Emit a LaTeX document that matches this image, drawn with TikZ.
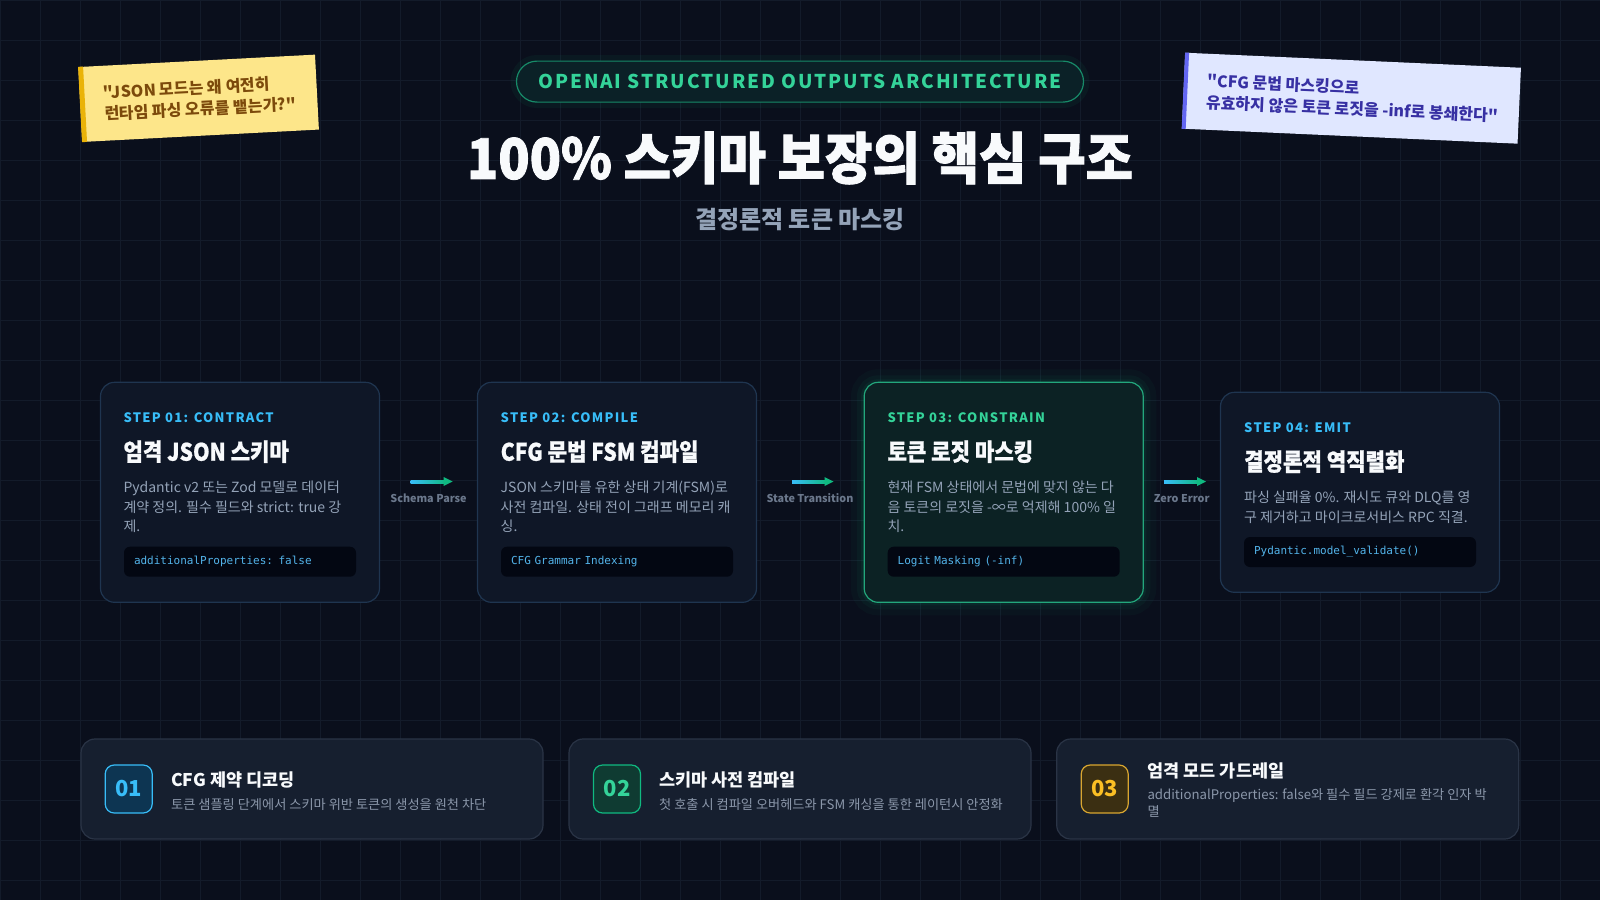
\documentclass[tikz,border=0pt]{standalone}
\usepackage{fontspec}
\setmainfont{Noto Sans CJK KR}[Ligatures=TeXOff]
\newfontfamily\krcond{Noto Sans CJK KR}[Ligatures=TeXOff, FakeStretch=0.88, BoldFeatures={FakeBold=0.8}]
\newfontfamily\krheavy{Noto Sans CJK KR}[Ligatures=TeXOff, FakeStretch=0.92, BoldFeatures={FakeBold=1.6}]
\newfontfamily\krspaced{Noto Sans CJK KR}[Ligatures=TeXOff, LetterSpace=10]
\setmonofont{DejaVu Sans Mono}
\usetikzlibrary{calc}

\definecolor{bgdark}{HTML}{0A0F1C}
\definecolor{gridline}{HTML}{131B2A}
\definecolor{cardfill}{HTML}{0F1727}
\definecolor{cardline}{HTML}{1F3550}
\definecolor{constfill}{HTML}{0C2224}
\definecolor{constline}{HTML}{23A77C}
\definecolor{codefill}{HTML}{030712}
\definecolor{codeblue}{HTML}{53B4EA}
\definecolor{skyblue}{HTML}{38BDF8}
\definecolor{emerald}{HTML}{10B981}
\definecolor{mint}{HTML}{34D399}
\definecolor{bodygray}{HTML}{94A3B8}
\definecolor{labelgray}{HTML}{6B788C}
\definecolor{whitetext}{HTML}{F8FAFC}
\definecolor{pillfill}{HTML}{0B2127}
\definecolor{pillline}{HTML}{178A68}
\definecolor{featfill}{HTML}{161F2F}
\definecolor{featline}{HTML}{2A3446}
\definecolor{featgray}{HTML}{8B97AA}
\definecolor{badgeonefill}{HTML}{0D3552}
\definecolor{badgetwofill}{HTML}{0F3B32}
\definecolor{badgethreefill}{HTML}{3B2F12}
\definecolor{amberline}{HTML}{D9A630}
\definecolor{amber}{HTML}{FBBF24}
\definecolor{notey}{HTML}{FDE68A}
\definecolor{noteyedge}{HTML}{EAB308}
\definecolor{noteytext}{HTML}{7C4A0B}
\definecolor{noteb}{HTML}{E0E7FF}
\definecolor{notebedge}{HTML}{6366F1}
\definecolor{notebtext}{HTML}{3730A3}

\tikzset{
	stepcard/.style={draw=cardline, fill=cardfill, rounded corners=14, line width=1.2, minimum width=279, inner sep=0},
	steptag/.style={anchor=west, inner sep=0, text=skyblue, font=\krspaced\bfseries\fontsize{13}{16}\selectfont},
	steptitle/.style={anchor=west, inner sep=0, text=whitetext, font=\krcond\bfseries\fontsize{24}{28}\selectfont},
	stepbody/.style={anchor=west, inner sep=0, align=left, text=bodygray, font=\fontsize{14}{19.7}\selectfont},
	codebox/.style={fill=codefill, rounded corners=6, text width=212, inner xsep=10, inner ysep=0, minimum height=30, align=left, text=codeblue, font=\ttfamily\fontsize{11}{13}\selectfont},
	flowlabel/.style={inner sep=0, text=labelgray, font=\bfseries\fontsize{10.8}{13}\selectfont},
	featcard/.style={draw=featline, fill=featfill, rounded corners=14, line width=1.2, minimum width=462, minimum height=100, inner sep=0},
	badge/.style={rounded corners=9, line width=1.2, minimum width=47, minimum height=48, inner sep=0, font=\bfseries\fontsize{22}{24}\selectfont},
	feattitle/.style={anchor=west, inner sep=0, text=whitetext, font=\bfseries\fontsize{17.5}{20}\selectfont},
	featbody/.style={anchor=west, inner sep=0, align=left, text=featgray, font=\fontsize{13.2}{17}\selectfont},
	notetext/.style={anchor=west, inner sep=0, align=left, font=\bfseries\fontsize{16}{21.5}\selectfont}
}

\begin{document}
\begin{tikzpicture}[x=1pt,y=1pt,yscale=-1]
	%Shape: Background
	\fill[bgdark] (0,0) rectangle (1600,900);
	\useasboundingbox (0,0) rectangle (1600,900);
	%Shape: Grid
	\draw[gridline, line width=1, step=40] (0,0) grid (1600,900);

	%Shape: Pill glow
	\draw[emerald, opacity=0.06, line width=12, rounded corners=20.5] (516.5,61) rectangle (1083.5,102);
	% Text Node
	\draw (800,81.6) node[draw=pillline, fill=pillfill, line width=1.2, rounded corners=20.5, minimum width=567, minimum height=41, inner sep=0, text=mint, font=\krspaced\bfseries\fontsize{19}{22}\selectfont] (tag) {OPENAI STRUCTURED OUTPUTS ARCHITECTURE};
	% Text Node
	\draw (800,158) node[inner sep=0, text=whitetext, font=\krheavy\bfseries\fontsize{56}{64}\selectfont] (headline) {100\% 스키마 보장의 핵심 구조};
	% Text Node
	\draw (800,220) node[inner sep=0, text=bodygray, font=\bfseries\fontsize{24}{28}\selectfont] (subhead) {결정론적 토큰 마스킹};

	%Shape: Sticky note (question)
	\draw (198.6,98.3) node[fill=notey, rotate=3, minimum width=237, minimum height=75, inner sep=0] (qnote) {};
	\draw[noteyedge, line width=5] ($(qnote.north west)!2.5pt!(qnote.north east)$) -- ($(qnote.south west)!2.5pt!(qnote.south east)$);
	\draw ($(qnote.west)!24pt!(qnote.east)$) node[notetext, rotate=3, text=noteytext] (qtext) {"JSON 모드는 왜 여전히\\런타임 파싱 오류를 뱉는가?"};
	%Shape: Sticky note (answer)
	\draw (1351.4,98.2) node[fill=noteb, rotate=-2.56, minimum width=336, minimum height=76, inner sep=0] (anote) {};
	\draw[notebedge, line width=4] ($(anote.north west)!2pt!(anote.north east)$) -- ($(anote.south west)!2pt!(anote.south east)$);
	\draw ($(anote.west)!23pt!(anote.east)$) node[notetext, rotate=-2.56, text=notebtext] (atext) {"CFG 문법 마스킹으로\\유효하지 않은 토큰 로짓을 -inf로 봉쇄한다"};

	%Shape: Step 01
	\draw (240,492.3) node[stepcard, minimum height=220] (s1) {};
	\draw (123.3,417.3) node[steptag] (s1tag) {STEP 01: CONTRACT};
	\draw (123.3,451.7) node[steptitle] (s1title) {엄격 JSON 스키마};
	\draw (123.3,507) node[stepbody] (s1body) {Pydantic v2 또는 Zod 모델로 데이터\\계약 정의. 필수 필드와 strict: true 강\\제.};
	\draw (240,561.7) node[codebox] (s1code) {additionalProperties: false};

	%Shape: Step 02
	\draw (617,492.3) node[stepcard, minimum height=220] (s2) {};
	\draw (500.5,417.3) node[steptag] (s2tag) {STEP 02: COMPILE};
	\draw (500.5,451.7) node[steptitle] (s2title) {CFG 문법 FSM 컴파일};
	\draw (500.5,507) node[stepbody] (s2body) {JSON 스키마를 유한 상태 기계(FSM)로\\사전 컴파일. 상태 전이 그래프 메모리 캐\\싱.};
	\draw (617,561.7) node[codebox] (s2code) {CFG Grammar Indexing};

	%Shape: Step 03 glow
	\draw[emerald, opacity=0.04, line width=26, rounded corners=14] (864,382.3) rectangle (1143.3,602.3);
	\draw[emerald, opacity=0.05, line width=14, rounded corners=14] (864,382.3) rectangle (1143.3,602.3);
	\draw[emerald, opacity=0.07, line width=6, rounded corners=14] (864,382.3) rectangle (1143.3,602.3);
	%Shape: Step 03
	\draw (1003.7,492.3) node[stepcard, draw=constline, fill=constfill, minimum height=220] (s3) {};
	\draw (887.3,417.3) node[steptag, text=mint] (s3tag) {STEP 03: CONSTRAIN};
	\draw (887.3,451.7) node[steptitle] (s3title) {토큰 로짓 마스킹};
	\draw (887.3,507) node[stepbody] (s3body) {현재 FSM 상태에서 문법에 맞지 않는 다\\음 토큰의 로짓을 -∞로 억제해 100\% 일\\치.};
	\draw (1003.7,561.7) node[codebox] (s3code) {Logit Masking (-inf)};

	%Shape: Step 04
	\draw (1360,492.3) node[stepcard, minimum height=200] (s4) {};
	\draw (1244,427.3) node[steptag] (s4tag) {STEP 04: EMIT};
	\draw (1244,461.7) node[steptitle] (s4title) {결정론적 역직렬화};
	\draw (1244,507) node[stepbody] (s4body) {파싱 실패율 0\%. 재시도 큐와 DLQ를 영\\구 제거하고 마이크로서비스 RPC 직결.};
	\draw (1360,552) node[codebox] (s4code) {Pydantic.model\_validate()};

	%Straight Lines
	\coordinate (arr1from) at (410.7,481.5);
	\coordinate (arr1to) at (452.7,481.5);
	\shade[left color=skyblue, right color=emerald] ($(arr1from)+(0,-1.5)$) rectangle ($(arr1to)+(-7,1.5)$);
	\draw [shift={(arr1to)}, rotate=180] [fill=emerald][draw opacity=0] (9,-4.5) -- (0,0) -- (9,4.5) -- cycle;
	\draw (428.5,498.3) node[flowlabel] (arr1label) {Schema Parse};
	%Straight Lines
	\coordinate (arr2from) at (792,481.5);
	\coordinate (arr2to) at (833.5,481.5);
	\shade[left color=skyblue, right color=emerald] ($(arr2from)+(0,-1.5)$) rectangle ($(arr2to)+(-7,1.5)$);
	\draw [shift={(arr2to)}, rotate=180] [fill=emerald][draw opacity=0] (9,-4.5) -- (0,0) -- (9,4.5) -- cycle;
	\draw (810,498.3) node[flowlabel] (arr2label) {State Transition};
	%Straight Lines
	\coordinate (arr3from) at (1164,481.5);
	\coordinate (arr3to) at (1206,481.5);
	\shade[left color=skyblue, right color=emerald] ($(arr3from)+(0,-1.5)$) rectangle ($(arr3to)+(-7,1.5)$);
	\draw [shift={(arr3to)}, rotate=180] [fill=emerald][draw opacity=0] (9,-4.5) -- (0,0) -- (9,4.5) -- cycle;
	\draw (1181.7,498.3) node[flowlabel] (arr3label) {Zero Error};

	%Shape: Feature 01
	\draw (312,789) node[featcard] (feat1) {};
	\draw (128.7,789) node[badge, draw=skyblue, fill=badgeonefill, text=skyblue] (badge1) {01};
	\draw (171,780) node[feattitle] (feat1title) {CFG 제약 디코딩};
	\draw (171,805) node[featbody] (feat1body) {토큰 샘플링 단계에서 스키마 위반 토큰의 생성을 원천 차단};
	%Shape: Feature 02
	\draw (800,789) node[featcard] (feat2) {};
	\draw (617,789) node[badge, draw=emerald, fill=badgetwofill, text=mint] (badge2) {02};
	\draw (659,780) node[feattitle] (feat2title) {스키마 사전 컴파일};
	\draw (659,805) node[featbody] (feat2body) {첫 호출 시 컴파일 오버헤드와 FSM 캐싱을 통한 레이턴시 안정화};
	%Shape: Feature 03
	\draw (1287.7,789) node[featcard] (feat3) {};
	\draw (1104.7,789) node[badge, draw=amberline, fill=badgethreefill, text=amber] (badge3) {03};
	\draw (1147.3,770.7) node[feattitle] (feat3title) {엄격 모드 가드레일};
	\draw (1147.3,803.3) node[featbody] (feat3body) {additionalProperties: false와 필수 필드 강제로 환각 인자 박\\멸};

\end{tikzpicture}
\end{document}
